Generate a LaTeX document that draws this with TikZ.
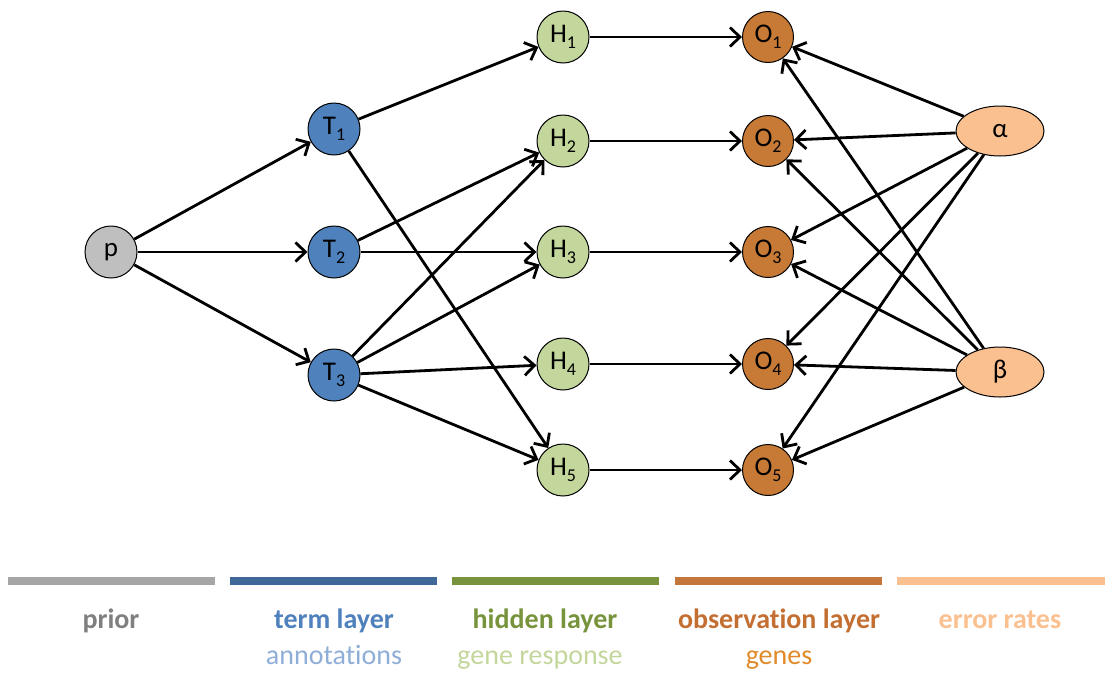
\documentclass[tikz,border=0pt]{standalone}
\usepackage{fontspec}
\setmainfont{Carlito}[Ligatures={NoCommon}]
\usetikzlibrary{arrows.meta,shapes.geometric}
\definecolor{priorfill}{HTML}{BFBFBF}
\definecolor{termfill}{HTML}{4F81BD}
\definecolor{hidfill}{HTML}{C3D69B}
\definecolor{obsfill}{HTML}{C77A36}
\definecolor{errfill}{HTML}{FAC090}
\definecolor{priorbar}{HTML}{A6A6A6}
\definecolor{termbar}{HTML}{3F6797}
\definecolor{hidbar}{HTML}{77933C}
\definecolor{obsbar}{HTML}{C5763A}
\definecolor{priortxt}{HTML}{7F7F7F}
\definecolor{termsub}{HTML}{8EAED8}
\definecolor{obstxt}{HTML}{C46F32}
\definecolor{genetxt}{HTML}{E08A2A}
\newcommand\lsub[1]{\raisebox{-0.45ex}{\fontsize{18}{18}\selectfont #1}}
\tikzset{
  unit/.style={circle,draw=black,line width=1pt,minimum size=52pt,inner sep=0pt,
    font=\fontsize{27}{30}\selectfont},
  errnode/.style={ellipse,draw=black,line width=1pt,fill=errfill,minimum width=88pt,
    minimum height=50pt,inner sep=0pt,font=\fontsize{27}{30}\selectfont},
  link/.style={line width=2.8pt,-{Straight Barb[length=10pt,width=19pt,line width=2.8pt]}},
  legbar/.style={line width=8pt},
  legtitle/.style={anchor=base,font=\bfseries\fontsize{28}{30}\selectfont},
  legsub/.style={anchor=base,font=\fontsize{28}{30}\selectfont}
}
\begin{document}
\begin{tikzpicture}[x=1pt,y=-1pt]
\useasboundingbox (0,0) rectangle (1105,673);
% prior
\node[unit,fill=priorfill] (p) at (111,252) {p};
% term layer
\node[unit,fill=termfill] (T1) at (334,129) {T\lsub{1}};
\node[unit,fill=termfill] (T2) at (334,252) {T\lsub{2}};
\node[unit,fill=termfill] (T3) at (334,375) {T\lsub{3}};
% hidden layer
\node[unit,fill=hidfill] (H1) at (563,37) {H\lsub{1}};
\node[unit,fill=hidfill] (H2) at (563,141) {H\lsub{2}};
\node[unit,fill=hidfill] (H3) at (563,252) {H\lsub{3}};
\node[unit,fill=hidfill] (H4) at (563,364) {H\lsub{4}};
\node[unit,fill=hidfill] (H5) at (563,470) {H\lsub{5}};
% observation layer
\node[unit,fill=obsfill,minimum size=51pt] (O1) at (768,37) {O\lsub{1}};
\node[unit,fill=obsfill,minimum size=51pt] (O2) at (768,141) {O\lsub{2}};
\node[unit,fill=obsfill,minimum size=51pt] (O3) at (768,252) {O\lsub{3}};
\node[unit,fill=obsfill,minimum size=51pt] (O4) at (768,364) {O\lsub{4}};
\node[unit,fill=obsfill,minimum size=51pt] (O5) at (768,470) {O\lsub{5}};
% error rates
\node[errnode] (a) at (1000,131) {α};
\node[errnode] (b) at (1000,372) {β};

% prior to terms
\foreach \t in {T1,T2,T3} \draw[link] (p) -- (\t);
% terms to hidden units
\draw[link] (T1) -- (H1);
\draw[link] (T1) -- (H5);
\draw[link] (T2) -- (H2);
\draw[link] (T2) -- (H3);
\foreach \h in {H2,H3,H4,H5} \draw[link] (T3) -- (\h);
% hidden to observed
\foreach \i in {1,...,5} \draw[link] (H\i) -- (O\i);
% error rates to observed
\foreach \i in {1,...,5} {
  \draw[link] (a) -- (O\i);
  \draw[link] (b) -- (O\i);
}

% legend
\draw[legbar,priorbar] (8,581) -- (215,581);
\draw[legbar,termbar] (230,581) -- (437,581);
\draw[legbar,hidbar] (452,581) -- (659,581);
\draw[legbar,obsbar] (675,581) -- (882,581);
\draw[legbar,errfill] (897,581) -- (1105,581);
\node[legtitle,text=priortxt] (lp) at (111,628) {prior};
\node[legtitle,text=termfill] (lt) at (334,628) {term layer};
\node[legsub,text=termsub] (lta) at (334,664) {annotations};
\node[legtitle,text=hidbar] (lh) at (545,628) {hidden layer};
\node[legsub,text=hidfill] (lhg) at (540,664) {gene response};
\node[legtitle,text=obstxt] (lo) at (779,628) {observation layer};
\node[legsub,text=genetxt] (log) at (779,664) {genes};
\node[legtitle,text=errfill] (le) at (1000,628) {error rates};
\end{tikzpicture}
\end{document}
